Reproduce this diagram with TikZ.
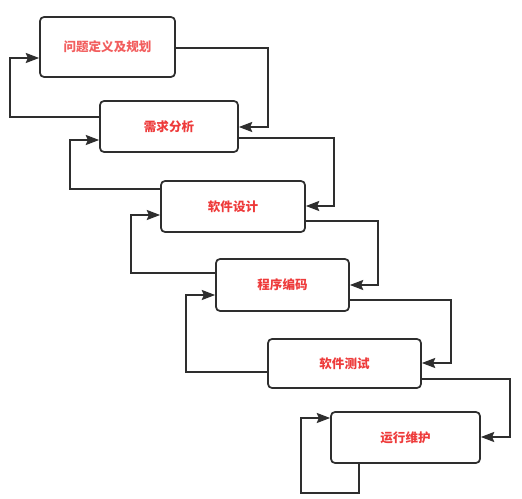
\documentclass[tikz,border=0pt]{standalone}
\usepackage{fontspec}
\newfontfamily\cjk{Noto Sans CJK SC}
\usetikzlibrary{arrows.meta}
\definecolor{txtred}{HTML}{EE3B3B}
\definecolor{txtpink}{HTML}{F25E5E}
\definecolor{edge}{HTML}{2E2E2E}
\tikzset{
  stage/.style={draw=edge, line width=1.3pt, rounded corners=3pt, fill=white,
    font=\cjk\bfseries\fontsize{9.4pt}{11pt}\selectfont, text=txtred, inner sep=0pt},
  conn/.style={draw=edge, line width=1.5pt,
    -{Stealth[length=10pt,width=7.5pt,inset=1.5pt]}}
}
\begin{document}
\begin{tikzpicture}[x=0.75pt,y=-0.75pt]
\useasboundingbox (0,0) rectangle (522,499);
\node[stage, text=txtpink, minimum width=101.25pt, minimum height=45pt] (b1) at (107.5,47) {问题定义及规划};
\node[stage, minimum width=103.5pt, minimum height=38.25pt] (b2) at (169,126.5) {需求分析};
\node[stage, minimum width=108pt, minimum height=38.25pt] (b3) at (233,206.5) {软件设计};
\node[stage, minimum width=99.75pt, minimum height=39pt] (b4) at (282.5,285) {程序编码};
\node[stage, minimum width=114.75pt, minimum height=36.75pt] (b5) at (344.5,363.5) {软件测试};
\node[stage, minimum width=111.75pt, minimum height=38.25pt] (b6) at (405.5,437.5) {运行维护};
% forward (right side)
\draw[conn] (b1.east |- 0,48) -- (268,48) |- (b2.east |- 0,127);
\draw[conn] (b2.east |- 0,138) -- (334,138) |- (b3.east |- 0,206);
\draw[conn] (b3.east |- 0,221) -- (378,221) |- (b4.east |- 0,285);
\draw[conn] (b4.east |- 0,300) -- (451,300) |- (b5.east |- 0,363);
\draw[conn] (b5.east |- 0,379) -- (510,379) |- (b6.east |- 0,437);
% feedback (left side)
\draw[conn] (b2.west |- 0,117) -- (10,117) |- (b1.west |- 0,58);
\draw[conn] (b3.west |- 0,189) -- (70,189) |- (b2.west |- 0,140);
\draw[conn] (b4.west |- 0,273) -- (131,273) |- (b3.west |- 0,215);
\draw[conn] (b5.west |- 0,372) -- (186,372) |- (b4.west |- 0,295);
\draw[conn] (b6.south -| 359,0) -- (359,493) -| (301,418) -- (b6.west |- 0,418);
\end{tikzpicture}
\end{document}
